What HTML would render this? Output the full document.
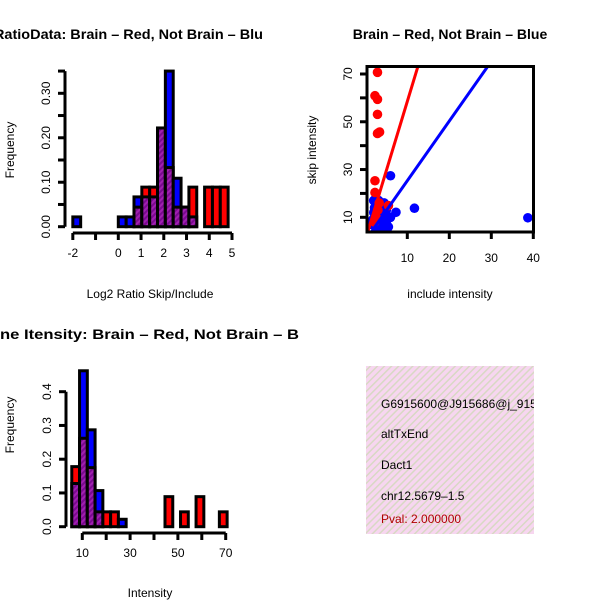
<!DOCTYPE html>
<html><head><meta charset="utf-8">
<style>
html,body{margin:0;padding:0;background:#fff;}
svg{display:block;font-family:"Liberation Sans",Arial,sans-serif;}
</style></head>
<body>
<svg id="s" width="600" height="600" viewBox="0 0 600 600" xmlns="http://www.w3.org/2000/svg">
<defs>
<pattern id="purp" width="4" height="4" patternUnits="userSpaceOnUse" patternTransform="rotate(45)">
<rect width="4" height="4" fill="#a020b0"/><rect width="2" height="4" fill="#7a0a90"/>
</pattern>
<pattern id="pinkhatch" width="5" height="5" patternUnits="userSpaceOnUse" patternTransform="rotate(45)">
<rect width="5" height="5" fill="#f7d6f0"/><rect width="1.5" height="5" fill="#d8d8c4"/>
</pattern>
<clipPath id="clipTL"><rect x="0" y="0" width="265" height="300"/></clipPath>
<clipPath id="clipBL"><rect x="0" y="300" width="300" height="300"/></clipPath>
<clipPath id="clipSc"><rect x="367" y="66" width="167" height="166"/></clipPath>
<clipPath id="clipInfo"><rect x="366" y="366" width="168" height="168"/></clipPath>
</defs>

<text x="-6" y="39" font-size="14" font-weight="bold" textLength="269" lengthAdjust="spacingAndGlyphs" clip-path="url(#clipTL)">RatioData: Brain – Red, Not Brain – Blu</text>
<text x="450" y="39" font-size="14" font-weight="bold" text-anchor="middle">Brain – Red, Not Brain – Blue</text>
<text x="0" y="339" font-size="14" font-weight="bold" textLength="299" lengthAdjust="spacingAndGlyphs" clip-path="url(#clipBL)">ne Itensity: Brain – Red, Not Brain – B</text>

<text x="150" y="298" font-size="12" text-anchor="middle">Log2 Ratio Skip/Include</text>
<text transform="translate(14,150) rotate(-90)" font-size="12" text-anchor="middle">Frequency</text>
<text x="450" y="298" font-size="12" text-anchor="middle">include intensity</text>
<text transform="translate(316,150) rotate(-90)" font-size="12" text-anchor="middle">skip intensity</text>
<text x="150" y="597" font-size="12" text-anchor="middle">Intensity</text>
<text transform="translate(14,425) rotate(-90)" font-size="12" text-anchor="middle">Frequency</text>

<g id="g1"></g>
<g id="g2"></g>
<g id="g3"></g>

<g>
<rect x="366" y="366" width="168" height="168" fill="url(#pinkhatch)"/>
<g clip-path="url(#clipInfo)" font-size="12">
<text x="381" y="408">G6915600@J915686@j_915686</text>
<text x="381" y="438">altTxEnd</text>
<text x="381" y="469">Dact1</text>
<text x="381" y="500">chr12.5679–1.5</text>
<text x="381" y="523" fill="#b00000">Pval: 2.000000</text>
</g>
</g>
</svg>
<script>
// ---- Ratio histogram data ----
const ratioBinStarts = [-2.0, 0, 0.345, 0.69, 1.035, 1.38, 1.725, 2.07, 2.415, 2.76, 3.105, 3.795, 4.14, 4.485];
const ratioBinWidth = 0.345;
const ratioRed  = [0, 0, 0, 0.044, 0.089, 0.089, 0.222, 0.133, 0.044, 0.044, 0.089, 0.089, 0.089, 0.089];
const ratioBlue = [0.022, 0.022, 0.022, 0.067, 0.067, 0.067, 0.222, 0.35, 0.109, 0.044, 0.022, 0, 0, 0];
const ratioXTicks = [-2, -1, 0, 1, 2, 3, 4, 5];
const ratioXLabels = ["-2", "", "0", "1", "2", "3", "4", "5"];
const ratioYTicks = [0, 0.05, 0.1, 0.15, 0.2, 0.25, 0.3, 0.35];
const ratioYLabels = ["0.00", "", "0.10", "", "0.20", "", "0.30", ""];

// ---- Scatter data ----
const redInclude = [2.9, 2.3, 2.9, 2.9, 2.9, 3.4, 2.3, 2.3, 5.5, 2.6, 3.0, 2.2, 3.3];
const redSkip    = [70.7, 60.9, 59.4, 53.1, 45.1, 45.7, 25.3, 20.4, 14.9, 10, 13, 8, 16];
const blueInclude = [6.0, 7.3, 11.7, 38.7, 2.0, 2.5, 3.0, 3.5, 4.0, 4.5, 5.0, 5.5, 3.0, 2.5, 1.5, 4.0, 3.5, 5.0, 2.0, 6.0, 4.5, 3.0, 1.8, 4.2, 3.8, 2.8, 3.2, 4.8, 2.2, 3.6];
const blueSkip    = [27.4, 12.1, 13.8, 9.8, 17, 18, 15, 14, 12, 10, 8, 6, 8, 6, 7, 6, 10, 13, 12, 10, 16, 12, 9, 8, 5, 11, 17, 11, 14, 7];
const redFit  = [0.5, 5.8];
const blueFit = [0.3, 2.5];
const scXTicks = [10, 20, 30, 40];
const scYTicks = [10, 20, 30, 40, 50, 60, 70];
const scYLabels = ["10", "", "30", "", "50", "", "70"];

// ---- Intensity histogram data ----
const intStart = 5.6, intWidth = 3.25;
const intRed  = [0.178, 0.262, 0.175, 0.044, 0.044, 0.044, 0, 0, 0, 0, 0, 0, 0.089, 0, 0.044, 0, 0.089, 0, 0, 0.044];
const intBlue = [0.128, 0.462, 0.287, 0.107, 0, 0, 0.022, 0, 0, 0, 0, 0, 0, 0, 0, 0, 0, 0, 0, 0];
const intXTicks = [10, 20, 30, 40, 50, 60, 70];
const intXLabels = ["10", "", "30", "", "50", "", "70"];
const intYTicks = [0, 0.1, 0.2, 0.3, 0.4];
const intYLabels = ["0.0", "0.1", "0.2", "0.3", "0.4"];

const NS = "http://www.w3.org/2000/svg";
function mk(tag, attrs, parent) {
  const e = document.createElementNS(NS, tag);
  for (const k in attrs) e.setAttribute(k, attrs[k]);
  parent.appendChild(e);
  return e;
}
function lin(d0, d1, r0, r1) { return v => r0 + (v - d0) * (r1 - r0) / (d1 - d0); }

function histogram(g, starts, width, red, blue, xs, ys, prefix) {
  for (let i = 0; i < starts.length; i++) {
    const x0 = xs(starts[i]), x1 = xs(starts[i] + width);
    const r = red[i], b = blue[i];
    const hi = Math.max(r, b), lo = Math.min(r, b);
    if (hi <= 0) continue;
    const col = r >= b ? "#ff0000" : "#0000ff";
    const bar = mk("rect", {x: x0, y: ys(hi), width: x1 - x0, height: ys(0) - ys(hi), fill: col, stroke: "#000", "stroke-width": 3}, g);
    
    
    if (lo > 0) {
      const ov = mk("rect", {x: x0, y: ys(lo), width: x1 - x0, height: ys(0) - ys(lo), fill: "url(#purp)", stroke: "#000", "stroke-width": 3}, g);
      
      
    }
  }
}
function xAxis(g, ticks, labels, xs, y, name) {
  const a = mk("line", {x1: xs(ticks[0]), x2: xs(ticks[ticks.length - 1]), y1: y, y2: y, stroke: "#000", "stroke-width": 3}, g);
  
  
  ticks.forEach((t, i) => {
    mk("line", {x1: xs(t), x2: xs(t), y1: y, y2: y + 7, stroke: "#000", "stroke-width": 3}, g);
    if (labels[i]) {
      const tx = mk("text", {x: xs(t), y: y + 24, "font-size": 12, "text-anchor": "middle"}, g);
      tx.textContent = labels[i];
      
      
    }
  });
}
function yAxis(g, ticks, labels, ys, x, name) {
  const a = mk("line", {x1: x, x2: x, y1: ys(ticks[0]), y2: ys(ticks[ticks.length - 1]), stroke: "#000", "stroke-width": 3}, g);
  
  
  ticks.forEach((t, i) => {
    mk("line", {x1: x, x2: x - 7, y1: ys(t), y2: ys(t), stroke: "#000", "stroke-width": 3}, g);
    if (labels[i]) {
      const tx = mk("text", {transform: `translate(${x - 15},${ys(t)}) rotate(-90)`, "font-size": 12, "text-anchor": "middle"}, g);
      tx.textContent = labels[i];
      
      
    }
  });
}

{
  const g = document.getElementById("g1");
  const xs = lin(0, 5, 118.3, 232);
  const ys = lin(0, 0.3, 226.7, 93.3);
  histogram(g, ratioBinStarts, ratioBinWidth, ratioRed, ratioBlue, xs, ys, "ratio");
  xAxis(g, ratioXTicks, ratioXLabels, xs, 233, "ratio-x-axis");
  yAxis(g, ratioYTicks, ratioYLabels, ys, 65, "ratio-y-axis");
}
{
  const g = document.getElementById("g2");
  const xs = lin(10, 40, 407.3, 533.3);
  const ys = lin(10, 70, 217.3, 74);
  const pts = mk("g", {"clip-path": "url(#clipSc)"}, g);
  for (let i = 0; i < blueInclude.length; i++) {
    const c = mk("circle", {cx: xs(blueInclude[i]), cy: ys(blueSkip[i]), r: 4.8, fill: "#0000ff"}, pts);
    
    
  }
  for (let i = 0; i < redInclude.length; i++) {
    const c = mk("circle", {cx: xs(redInclude[i]), cy: ys(redSkip[i]), r: 4.8, fill: "#ff0000"}, pts);
    
    
  }
  const xa = 0, xb = 45;
  const rl = mk("line", {x1: xs(xa), y1: ys(redFit[0] + redFit[1] * xa), x2: xs(xb), y2: ys(redFit[0] + redFit[1] * xb), stroke: "#ff0000", "stroke-width": 3}, pts);
  
  
  const bl = mk("line", {x1: xs(xa), y1: ys(blueFit[0] + blueFit[1] * xa), x2: xs(xb), y2: ys(blueFit[0] + blueFit[1] * xb), stroke: "#0000ff", "stroke-width": 3}, pts);
  
  
  const box = mk("rect", {x: 367, y: 66.5, width: 166.5, height: 165.5, fill: "none", stroke: "#000", "stroke-width": 3}, g);
  
  
  scXTicks.forEach(t => {
    mk("line", {x1: xs(t), x2: xs(t), y1: 232, y2: 239, stroke: "#000", "stroke-width": 3}, g);
    const tx = mk("text", {x: xs(t), y: 262, "font-size": 12, "text-anchor": "middle"}, g);
    tx.textContent = String(t);
    
    
  });
  scYTicks.forEach((t, i) => {
    mk("line", {x1: 367, x2: 360, y1: ys(t), y2: ys(t), stroke: "#000", "stroke-width": 3}, g);
    if (scYLabels[i]) {
      const tx = mk("text", {transform: `translate(352,${ys(t)}) rotate(-90)`, "font-size": 12, "text-anchor": "middle"}, g);
      tx.textContent = scYLabels[i];
      
      
    }
  });
}
{
  const g = document.getElementById("g3");
  const xs = lin(10, 70, 82.3, 225.7);
  const ys = lin(0, 0.4, 526.7, 391.7);
  const starts = intRed.map((_, i) => intStart + i * intWidth);
  histogram(g, starts, intWidth, intRed, intBlue, xs, ys, "intensity");
  xAxis(g, intXTicks, intXLabels, xs, 533, "intensity-x-axis");
  yAxis(g, intYTicks, intYLabels, ys, 66, "intensity-y-axis");
}
</script>
</body></html>
